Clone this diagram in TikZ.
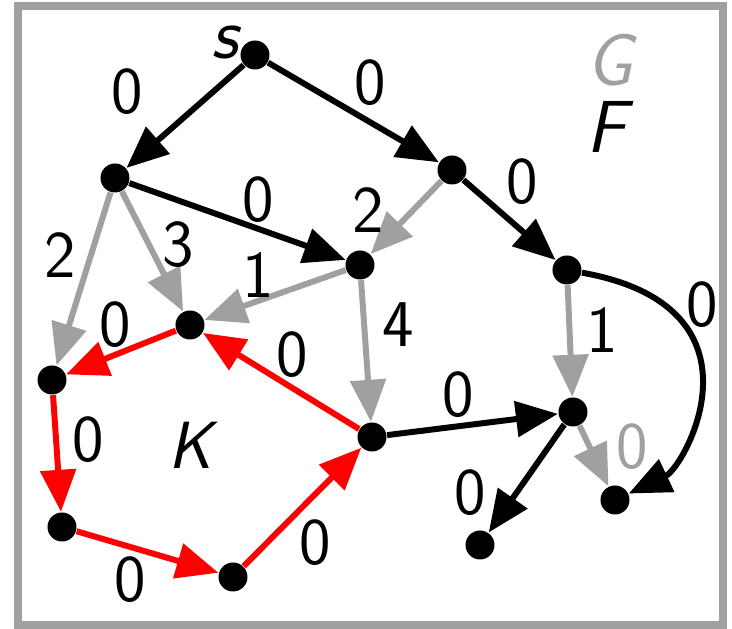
\documentclass[tikz,border=0pt]{standalone}
\usepackage{tikz}
\usetikzlibrary{arrows.meta}
\definecolor{myGray}{RGB}{160,160,160}
\definecolor{myRed}{RGB}{255,0,0}

\begin{document}
\begin{tikzpicture}[
    vertex/.style={circle, fill=black, inner sep=0pt, minimum size=0.29cm},
    lbl/.style={font=\sffamily\fontsize{19}{21}\selectfont, inner sep=0pt},
    title/.style={font=\sffamily\itshape\fontsize{21}{24}\selectfont, inner sep=0pt},
    blackarrow/.style={-{Triangle[length=4.2mm,width=3.5mm]}, line width=1.7pt, black},
    grayarrow/.style={-{Triangle[length=4.2mm,width=3.5mm]}, line width=1.7pt, myGray},
    redarrow/.style={-{Triangle[length=4.2mm,width=3.5mm]}, line width=1.7pt, myRed}
]
    \useasboundingbox (0,0) rectangle (7.32,6.29);
    \draw[myGray, line width=2pt] (0.18,0.04) rectangle (7.23,6.23);

    % vertices
    \node[vertex] (s) at (2.55,5.74) {};
    \node[vertex] (a) at (1.15,4.51) {};
    \node[vertex] (b) at (4.52,4.59) {};
    \node[vertex] (c) at (3.60,3.64) {};
    \node[vertex] (d) at (5.67,3.59) {};
    \node[vertex] (e) at (1.90,3.04) {};
    \node[vertex] (f) at (0.52,2.49) {};
    \node[vertex] (g) at (3.72,1.92) {};
    \node[vertex] (h) at (5.73,2.17) {};
    \node[vertex] (i) at (0.62,1.02) {};
    \node[vertex] (j) at (2.33,0.52) {};
    \node[vertex] (k) at (4.80,0.84) {};
    \node[vertex] (l) at (6.15,1.29) {};

    % names
    \node[title] (sName) at (2.25,5.87) {s};
    \node[title, myGray] (gName) at (6.10,5.69) {G};
    \node[title] (fName) at (6.06,5.02) {F};
    \node[title, font=\sffamily\itshape\fontsize{19}{21}\selectfont] (kName) at (1.90,1.84) {K};

    % edges of F
    \draw[blackarrow] (s) -- (a);
    \draw[blackarrow] (s) -- (b);
    \draw[blackarrow] (a) -- (c);
    \draw[blackarrow] (b) -- (d);
    \draw[blackarrow] (g) -- (h);
    \draw[blackarrow] (h) -- (k);
    \draw[blackarrow] (d) .. controls (7.74,3.22) and (6.85,1.62) .. (l);

    % other edges of G
    \draw[grayarrow] (b) -- (c);
    \draw[grayarrow] (a) -- (f);
    \draw[grayarrow] (a) -- (e);
    \draw[grayarrow] (c) -- (e);
    \draw[grayarrow] (c) -- (g);
    \draw[grayarrow] (d) -- (h);
    \draw[grayarrow] (h) -- (l);

    % cycle K
    \draw[redarrow] (e) -- (f);
    \draw[redarrow] (f) -- (i);
    \draw[redarrow] (i) -- (j);
    \draw[redarrow] (j) -- (g);
    \draw[redarrow] (g) -- (e);

    % weights
    \node[lbl] (wsa) at (1.27,5.37) {0};
    \node[lbl] (wsb) at (3.70,5.46) {0};
    \node[lbl] (wac) at (2.58,4.29) {0};
    \node[lbl] (wbc) at (3.68,4.19) {2};
    \node[lbl] (wbd) at (5.22,4.47) {0};
    \node[lbl] (waf) at (0.60,3.74) {2};
    \node[lbl] (wae) at (1.78,3.84) {3};
    \node[lbl] (wce) at (2.58,3.54) {1};
    \node[lbl] (wcg) at (3.98,3.04) {4};
    \node[lbl] (wdh) at (6.02,2.99) {1};
    \node[lbl] (wdl) at (7.02,3.24) {0};
    \node[lbl] (wef) at (1.15,3.04) {0};
    \node[lbl] (wge) at (2.92,2.74) {0};
    \node[lbl] (wfi) at (0.88,1.89) {0};
    \node[lbl] (wgh) at (4.58,2.34) {0};
    \node[lbl, myGray] (whl) at (6.32,1.82) {0};
    \node[lbl] (whk) at (4.70,1.36) {0};
    \node[lbl] (wij) at (1.30,0.49) {0};
    \node[lbl] (wjg) at (3.15,0.86) {0};
\end{tikzpicture}
\end{document}
